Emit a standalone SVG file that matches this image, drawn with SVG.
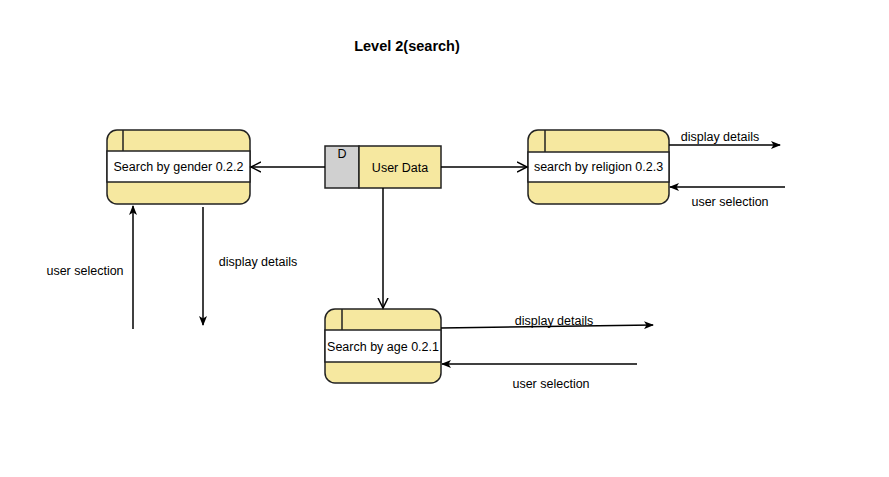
<svg xmlns="http://www.w3.org/2000/svg" width="889" height="477" viewBox="0 0 889 477">
<style>
text{font-family:"Liberation Sans",Arial,sans-serif;font-size:12.5px;fill:#000}
.proc{fill:#f6e8a0;stroke:#222;stroke-width:1.5}
.band{fill:#fff;stroke:#222;stroke-width:1.5}
.ln{stroke:#222;stroke-width:1.5;fill:none}
.c{stroke:#000;stroke-width:1.5;fill:none}
</style>
<defs>
<marker id="fill" markerWidth="10" markerHeight="8" refX="9" refY="4" orient="auto" markerUnits="userSpaceOnUse">
<path d="M0,0 L10,4 L0,8 L2.5,4 Z" fill="#000"/>
</marker>
<marker id="open" markerWidth="12" markerHeight="12" refX="10" refY="6" orient="auto" markerUnits="userSpaceOnUse">
<path d="M0,1 L10,6 L0,11" fill="none" stroke="#000" stroke-width="1.5"/>
</marker>
</defs>
<rect width="889" height="477" fill="#fff"/>
<text x="407" y="51" text-anchor="middle" style="font-weight:bold;font-size:14.5px">Level 2(search)</text>

<g id="gender">
<rect class="proc" x="107" y="130" width="143" height="74" rx="10"/>
<rect class="band" x="107" y="151" width="143" height="31"/>
<line class="ln" x1="123" y1="130" x2="123" y2="151"/>
<text x="178.5" y="171" text-anchor="middle">Search by gender 0.2.2</text>
</g>

<g id="userdata">
<rect x="325" y="146" width="34" height="42" fill="#d0d0d0" stroke="#222" stroke-width="1.5"/>
<rect x="359" y="146" width="82" height="42" fill="#f6e8a0" stroke="#222" stroke-width="1.5"/>
<text x="342" y="158" text-anchor="middle">D</text>
<text x="400" y="172" text-anchor="middle">User Data</text>
</g>

<g id="religion">
<rect class="proc" x="528" y="130" width="141" height="74" rx="10"/>
<rect class="band" x="528" y="152" width="141" height="30"/>
<line class="ln" x1="545" y1="130" x2="545" y2="152"/>
<text x="598.5" y="171" text-anchor="middle">search by religion 0.2.3</text>
</g>

<g id="age">
<rect class="proc" x="325" y="309" width="116" height="74" rx="10"/>
<rect class="band" x="325" y="330" width="116" height="32"/>
<line class="ln" x1="342" y1="309" x2="342" y2="330"/>
<text x="383" y="351" text-anchor="middle">Search by age 0.2.1</text>
</g>

<g id="connectors">
<line class="c" x1="325" y1="167" x2="251" y2="167" marker-end="url(#open)"/>
<line class="c" x1="441" y1="167" x2="527" y2="167" marker-end="url(#open)"/>
<line class="c" x1="383" y1="188" x2="383" y2="308" marker-end="url(#open)"/>
<line class="c" x1="669" y1="145" x2="780" y2="145" marker-end="url(#fill)"/>
<line class="c" x1="785" y1="187" x2="670" y2="187" marker-end="url(#fill)"/>
<line class="c" x1="441" y1="328" x2="653" y2="325" marker-end="url(#fill)"/>
<line class="c" x1="637" y1="364" x2="442" y2="364" marker-end="url(#fill)"/>
<line class="c" x1="133" y1="329" x2="133" y2="206" marker-end="url(#fill)"/>
<line class="c" x1="203" y1="207" x2="203" y2="325" marker-end="url(#fill)"/>
<text x="720" y="141" text-anchor="middle">display details</text>
<text x="730" y="206" text-anchor="middle">user selection</text>
<text x="554" y="325" text-anchor="middle">display details</text>
<text x="551" y="388" text-anchor="middle">user selection</text>
<text x="85" y="275" text-anchor="middle">user selection</text>
<text x="258" y="266" text-anchor="middle">display details</text>
</g>
</svg>
